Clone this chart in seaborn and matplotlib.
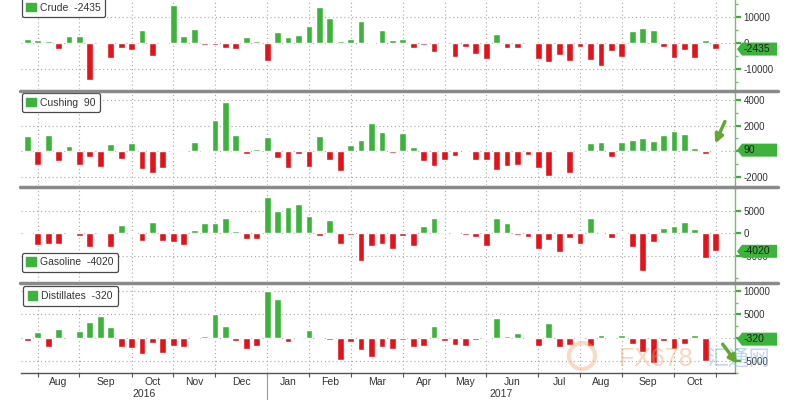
import numpy as np
import pandas as pd
import matplotlib
matplotlib.use("Agg")
import matplotlib.pyplot as plt
import matplotlib.transforms as mtransforms
from matplotlib.patches import Patch, Polygon, FancyArrowPatch, Ellipse
from matplotlib.lines import Line2D
import seaborn as sns

sns.set_theme(style="white")
plt.rcParams['font.family'] = ['Liberation Sans', 'DejaVu Sans']

# ---------------- data ----------------
weeks = pd.date_range("2016-07-29", periods=67, freq="W-FRI")

crude = [1500, 1100, 800, -2400, 2500, 2500, -14200, -500, -6000, -1900,
         -2700, 5000, -5200, -550, 14400, 2400, 5300, -1000, -900, -2200,
         -2400, 2200, 600, -7000, 4100, 2300, 2800, 6500, 13800, 9500,
         600, 1500, 8200, 200, 5000, 900, 1500, -1900, -900, -3500,
         -500, -5300, -1500, -4300, -6400, 3300, -1900, -2000, 100, -6300,
         -7500, -4700, -7200, -1500, -6500, -8900, -3300, -5400, 4600, 5800,
         4900, -1800, -6000, -2800, -5700, 900, -2435]

cushing = [1190, -1100, 1240, -750, 410, -1030, -410, -1210, 540, -590,
           620, -1340, -1650, -1320, 100, 50, 750, -50, 2450, 3840,
           1290, -230, 180, 1110, -540, -1260, -230, -1210, 1160, -670,
           -1520, 490, 900, 2190, 1470, -150, 1450, 300, -760, -1170,
           -710, -380, 30, -710, -710, -1430, -1120, -1040, -250, -1270,
           -1910, -20, -1660, 20, 640, 740, -460, 740, 870, 1070,
           770, 1250, 1580, 1380, 260, -200, 90]

gasoline = [200, -2700, -2500, -2500, -100, -500, -3100, 300, -3000, 1950,
            -100, -1650, 2500, -1650, -1950, -2600, 800, 2300, 2200, 3400,
            500, -1200, -1300, 8200, 4900, 5900, 6600, 3800, -700, 2900,
            -2400, -350, -6200, -2750, -2500, -3400, -500, -2800, 1650, 3500,
            100, -150, -300, -750, -2750, 3500, 2250, -400, -750, -3500,
            -1550, -4100, -950, -2400, 3500, 50, -1000, -50, -3100, -8400,
            -2000, 1200, 1700, 2500, 1000, -5400, -4020]

distillates = [-700, 1150, -1900, 1900, 50, 1400, 3400, 4700, 2300, -1900,
               -2300, -3600, -1200, -3200, -1800, -1900, 50, 300, 5000, 2400,
               -700, -2400, -1700, 10000, 8300, -900, 50, 1600, 30, -550,
               -4800, -900, -2550, -4050, -1900, -2500, -500, -2050, -1850, 2600,
               -650, -1500, -1850, -400, 50, 4300, 350, 1100, -300, -1800,
               3100, -2050, -1650, -50, -1700, 550, 50, 550, -1300, -3000,
               -5500, -650, -2500, -1350, 500, -5100, -320]

names = ["Crude", "Cushing", "Gasoline", "Distillates"]
latest = ["-2435", "90", "-4020", "-320"]
series = [crude, cushing, gasoline, distillates]
years = ["2016", "2017"]

# ---------------- style ----------------
GREEN = "#3cb43c"
RED = "#e3121b"
AXGREEN = "#74bd74"
TICKGREEN = "#3fa83f"
GRID = "#a8a8a8"
W, H = 800, 400

panels = [
    dict(top=0, bottom=89, ylim=(-17800, 16440), major=[-10000, 0, 10000], hide=[],
         minor=[-15000, -5000, 5000, 15000], loc="upper left", anchor=(0, 1.035)),
    dict(top=92, bottom=185, ylim=(-2620, 4610), major=[-2000, 0, 2000, 4000], hide=[0],
         minor=[-1000, 1000, 3000], loc="upper left", anchor=(0, 1.0)),
    dict(top=188, bottom=281, ylim=(-10640, 10100), major=[-5000, 0, 5000], hide=[],
         minor=[-10000, 10000], loc="lower left", anchor=(0, 0.085)),
    dict(top=284, bottom=373, ylim=(-7580, 11520), major=[-5000, 0, 5000, 10000], hide=[0],
         minor=[-7500, -2500, 2500, 7500], loc="upper left", anchor=(0.002, 0.985)),
]

LEFT_PX, RIGHT_PX = 20.7, 735
xlim = (-0.63, 67.85)

idx = np.arange(len(weeks))
month_starts = [i for i in range(1, len(weeks)) if weeks[i].month != weeks[i - 1].month]
mids = [(a + b) / 2 for a, b in zip(month_starts[:-1], month_starts[1:])]
mlabels = [weeks[a].strftime("%b") for a in month_starts[:-1]]

fig = plt.figure(figsize=(8, 4), dpi=100)
fig.patch.set_facecolor("white")

axes = []
for k, (p, vals, name, last) in enumerate(zip(panels, series, names, latest)):
    rect = [LEFT_PX / W, 1 - p["bottom"] / H, (RIGHT_PX - LEFT_PX) / W,
            (p["bottom"] - p["top"]) / H]
    ax = fig.add_axes(rect)
    axes.append(ax)
    df = pd.DataFrame({"week": idx, "value": vals})
    df["sign"] = np.where(df["value"] >= 0, "up", "down")
    sns.barplot(data=df, x="week", y="value", hue="sign",
                palette={"up": GREEN, "down": RED}, dodge=False, width=0.65,
                saturation=1, errorbar=None, legend=False, native_scale=True,
                ax=ax, zorder=2)
    ax.set_xlim(*xlim)
    ax.set_ylim(*p["ylim"])
    ax.set_xlabel("")
    ax.set_ylabel("")
    ax.set_facecolor("white")
    for s in ["left", "top", "bottom"]:
        ax.spines[s].set_visible(False)
    ax.spines["right"].set_color(AXGREEN)
    ax.spines["right"].set_linewidth(1.0)

    # grid
    for y in p["major"]:
        ax.axhline(y, color=GRID, ls=(0, (1, 2.5)), lw=0.8, zorder=0)
    for m in month_starts:
        ax.axvline(m, color=GRID, ls=(0, (1, 2.5)), lw=0.8, zorder=0)

    # y axis on the right
    ax.yaxis.tick_right()
    ax.set_yticks(p["major"])
    ax.set_yticklabels(["" if v in p["hide"] else str(v) for v in p["major"]])
    ax.set_yticks(p["minor"], minor=True)
    ax.tick_params(axis="y", which="major", direction="out", length=4, width=1.6,
                   color=TICKGREEN, labelsize=7, labelcolor="#333333", pad=2, right=True, left=False)
    ax.tick_params(axis="y", which="minor", direction="out", length=2.5, width=1,
                   color=AXGREEN, right=True, left=False)

    # legend
    leg = ax.legend(handles=[Patch(facecolor=GREEN, edgecolor=GREEN, label=f"{name}  {last}")],
                    loc=p["loc"], bbox_to_anchor=p["anchor"], frameon=True, fancybox=True,
                    framealpha=1, edgecolor="#4a4a4a", fontsize=7.5, handlelength=0.9,
                    handleheight=0.9, handletextpad=0.4, borderpad=0.45, borderaxespad=0.1)
    leg.get_frame().set_linewidth(0.9)
    leg.set_zorder(8)
    for t in leg.get_texts():
        t.set_color("#333333")

    if k < 3:
        ax.set_xticks([])
    else:
        ax.spines["bottom"].set_visible(True)
        ax.spines["bottom"].set_color("#555555")
        ax.spines["bottom"].set_linewidth(1)
        ax.set_xticks(month_starts)
        ax.set_xticklabels([""] * len(month_starts))
        ax.set_xticks(mids, minor=True)
        ax.set_xticklabels(mlabels, minor=True)
        ax.tick_params(axis="x", which="major", direction="out", length=3, width=0.8,
                       color="#555555", bottom=True)
        ax.tick_params(axis="x", which="minor", length=0, labelsize=7.5, pad=3,
                       labelcolor="#333333", bottom=True)
        tr = mtransforms.blended_transform_factory(ax.transData, ax.transAxes)
        oct16 = [i for i in month_starts if weeks[i].month == 10][0]
        jun17 = [i for i in month_starts if weeks[i].month == 6][0]
        ax.text(oct16 + 0.1, -0.236, years[0], transform=tr, ha="left", va="center",
                fontsize=7.5, color="#333333", clip_on=False)
        ax.text(jun17 + 0.35, -0.236, years[1], transform=tr, ha="left", va="center",
                fontsize=7.5, color="#333333", clip_on=False)
        jan = [i for i in month_starts if weeks[i].month == 1][0]
        ax.plot([jan, jan], [0, -0.31], transform=tr, color="#9a9a9a", lw=0.8, clip_on=False)

# value tags at right (drawn in display pixels, fixed size)
for ax, vals, last in zip(axes, series, latest):
    trans = mtransforms.blended_transform_factory(ax.transAxes, ax.transData)
    x0, y0 = trans.transform((1.0, vals[-1]))
    verts = [(x0 + 2, y0), (x0 + 7, y0 + 6.5), (x0 + 42, y0 + 6.5),
             (x0 + 42, y0 - 6.5), (x0 + 7, y0 - 6.5)]
    poly = Polygon(verts, closed=True, transform=mtransforms.IdentityTransform(),
                   facecolor=GREEN, edgecolor="none", zorder=20)
    fig.add_artist(poly)
    fig.text((x0 + 9) / W, y0 / H, last, ha="left", va="center", fontsize=7.5,
             color="#1e1e1e", zorder=21)

# panel separators
for ypx in [90.5, 186.5, 282.5]:
    fig.add_artist(Line2D([20 / W, 778 / W], [1 - ypx / H] * 2, transform=fig.transFigure,
                          color="#8a8a8a", lw=2.5, zorder=15))

# hand-drawn arrows
ARROW = "#63a833"
fig.add_artist(FancyArrowPatch((726 / W, 1 - 119 / H), (714 / W, 1 - 146 / H),
               transform=fig.transFigure, arrowstyle="-|>", mutation_scale=12,
               color=ARROW, lw=2.5, zorder=22))
fig.add_artist(FancyArrowPatch((721 / W, 1 - 342 / H), (739 / W, 1 - 366 / H),
               transform=fig.transFigure, arrowstyle="-|>", mutation_scale=12,
               color=ARROW, lw=2.5, zorder=22))

# watermark
fig.text(656 / W, 1 - 359 / H, "FX678", ha="center", va="center", fontsize=18,
         color="#f2a66e", alpha=0.45, zorder=19)
fig.text(738 / W, 1 - 359 / H, "汇通网", ha="center", va="center", fontsize=15,
         color="#7fb0e0", alpha=0.5, zorder=19, family=["Noto Sans CJK SC", "DejaVu Sans"])
ring = Ellipse((582 / W, 1 - 356 / H), 26 / W, 26 / H, transform=fig.transFigure,
               fill=False, edgecolor="#f2a66e", lw=3, alpha=0.4, zorder=19)
fig.add_artist(ring)

fig.savefig("out.png", dpi=100)
